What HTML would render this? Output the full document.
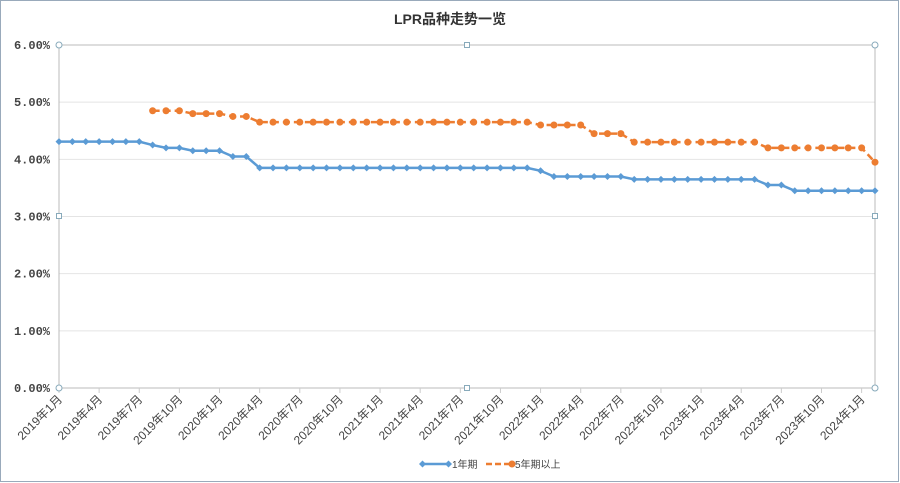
<!DOCTYPE html>
<html><head><meta charset="utf-8"><style>
body{margin:0;background:#fff;width:900px;height:483px;overflow:hidden}
svg{display:block}
</style></head><body>
<svg id="s" width="900" height="483" xmlns="http://www.w3.org/2000/svg" font-family="Liberation Sans, Noto Sans CJK SC, sans-serif">
<rect x="0.5" y="0.5" width="898" height="481" fill="#fff" stroke="#9ab" stroke-width="1"/>
<text x="450" y="24" text-anchor="middle" font-size="14" font-weight="bold" fill="#333">LPR品种走势一览</text>
</svg>
<script>
var s=document.getElementById('s'),NS='http://www.w3.org/2000/svg';
function el(t,a,txt){var e=document.createElementNS(NS,t);for(var k in a)e.setAttribute(k,a[k]);if(txt!=null)e.textContent=txt;s.appendChild(e);return e;}
var x0=59,x1=875,y0=388,yt=45,n=62,dx=(x1-x0)/(n-1);
function X(i){return x0+i*dx}function Y(v){return y0-(v/6)*(y0-yt)}
for(var p=0;p<=6;p++){var y=Y(p);el('line',{x1:x0,x2:x1,y1:y,y2:y,stroke:p==0?'#bbb':'#e4e4e4'});
el('text',{x:50,y:y+4,'text-anchor':'end','font-size':'12','font-weight':'bold',fill:'#444','font-family':'Liberation Mono, monospace'},p+'.00%');}
el('line',{x1:x0,x2:x0,y1:yt,y2:y0,stroke:'#bbb'});el('line',{x1:x1,x2:x1,y1:yt,y2:y0,stroke:'#bbb'});
el('line',{x1:x0,x2:x1,y1:yt,y2:yt,stroke:'#bbb'});
for(var i=0;i<n;i+=3){el('line',{x1:X(i),x2:X(i),y1:y0,y2:y0+5,stroke:'#ccc'});
var yr=2019+Math.floor(i/12),m=i%12+1;
el('text',{x:X(i)+4,y:y0+12,'text-anchor':'end','font-size':'12',fill:'#444',transform:'rotate(-45 '+(X(i)+4)+' '+(y0+12)+')'},yr+'年'+m+'月');}
var a=[];for(var i=0;i<n;i++){var v;
if(i<7)v=4.31;else if(i==7)v=4.25;else if(i<10)v=4.2;else if(i<13)v=4.15;else if(i<15)v=4.05;else if(i<36)v=3.85;else if(i==36)v=3.8;else if(i<43)v=3.7;else if(i<53)v=3.65;else if(i<55)v=3.55;else v=3.45;a.push(v);}
var b=[];for(var i=7;i<n;i++){var v;
if(i<10)v=4.85;else if(i<13)v=4.8;else if(i<15)v=4.75;else if(i<36)v=4.65;else if(i<40)v=4.6;else if(i<43)v=4.45;else if(i<53)v=4.3;else if(i<61)v=4.2;else v=3.95;b.push([i,v]);}
el('polyline',{points:a.map(function(v,i){return X(i)+','+Y(v)}).join(' '),fill:'none',stroke:'#5b9bd5','stroke-width':'2.5'});
a.forEach(function(v,i){var x=X(i),y=Y(v);el('polygon',{points:(x-3.5)+','+y+' '+x+','+(y-3.5)+' '+(x+3.5)+','+y+' '+x+','+(y+3.5),fill:'#5b9bd5'});});
el('polyline',{points:b.map(function(p){return X(p[0])+','+Y(p[1])}).join(' '),fill:'none',stroke:'#ed7d31','stroke-width':'2.5','stroke-dasharray':'7 4'});
b.forEach(function(p){el('circle',{cx:X(p[0]),cy:Y(p[1]),r:3.5,fill:'#ed7d31'});});
[[x0,yt],[467,yt],[x1,yt],[x0,216],[x1,216],[x0,y0],[467,y0],[x1,y0]].forEach(function(p,k){
if(k==1||k==3||k==4||k==6)el('rect',{x:p[0]-2.5,y:p[1]-2.5,width:5,height:5,fill:'#fff',stroke:'#8ab'});
else el('circle',{cx:p[0],cy:p[1],r:3,fill:'#fff',stroke:'#8ab'});});
el('line',{x1:421,x2:450,y1:464,y2:464,stroke:'#5b9bd5','stroke-width':'2.5'});
el('polygon',{points:'419,464 422.5,460.5 426,464 422.5,467.5',fill:'#5b9bd5'});
el('polygon',{points:'445,464 448.5,460.5 452,464 448.5,467.5',fill:'#5b9bd5'});
el('text',{x:452,y:468,'font-size':'10',fill:'#444'},'1年期');
el('line',{x1:486,x2:512,y1:464,y2:464,stroke:'#ed7d31','stroke-width':'2.5','stroke-dasharray':'6 3'});
el('circle',{cx:512,cy:464,r:3.5,fill:'#ed7d31'});
el('text',{x:515,y:468,'font-size':'10',fill:'#444'},'5年期以上');
</script>
</body></html>
